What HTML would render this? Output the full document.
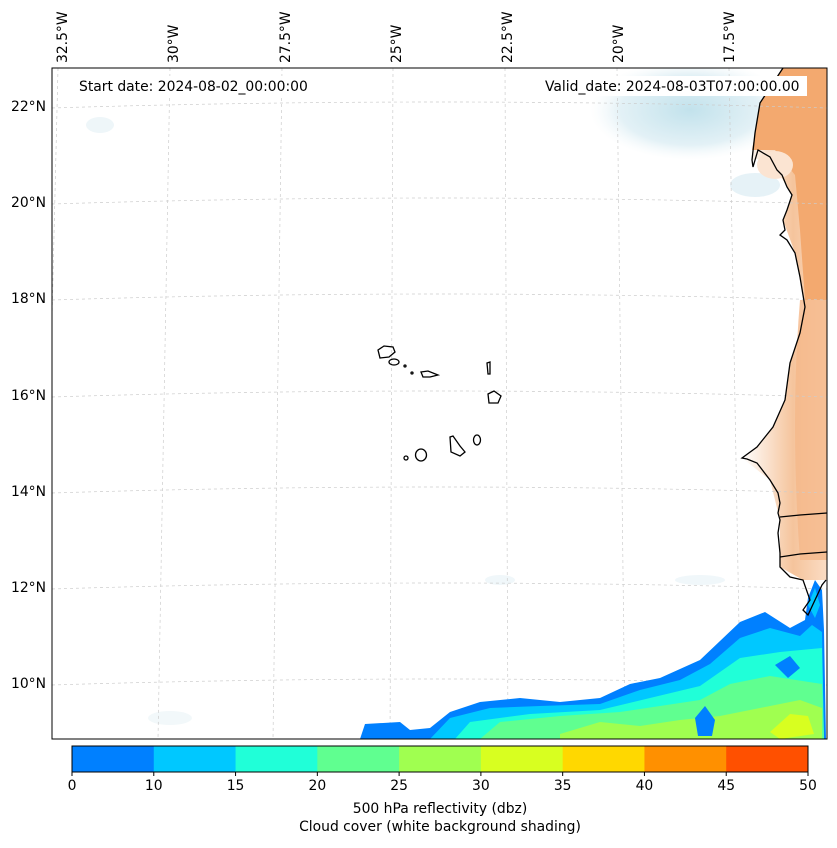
<!DOCTYPE html>
<html><head><meta charset="utf-8"><style>
body{margin:0;background:#fff;font-family:"Liberation Sans","DejaVu Sans",sans-serif;}
svg text{font-family:"DejaVu Sans","Liberation Sans",sans-serif;font-size:13.9px;fill:#000}
</style></head><body>
<svg width="837" height="843" viewBox="0 0 837 843">
<defs>
<linearGradient id="landS" x1="0" x2="1"><stop offset="0" stop-color="#fff"/><stop offset="0.6" stop-color="#f5c49c"/><stop offset="1" stop-color="#fbdcc4"/></linearGradient>
<radialGradient id="cloud"><stop offset="0" stop-color="#c2e2ec"/><stop offset="0.7" stop-color="#e3f1f6"/><stop offset="1" stop-color="#f3f9fb" stop-opacity="0"/></radialGradient>
<clipPath id="mapclip"><rect x="52" y="68" width="775" height="671"/></clipPath>
</defs>
<g clip-path="url(#mapclip)">
<rect x="52" y="68" width="775" height="671" fill="#fff"/>
<ellipse cx="690" cy="110" rx="100" ry="50" fill="url(#cloud)"/>
<ellipse cx="755" cy="185" rx="25" ry="12" fill="#e0eff5" opacity="0.8"/>
<ellipse cx="100" cy="125" rx="14" ry="8" fill="#eef6f9"/>
<ellipse cx="500" cy="580" rx="15" ry="5" fill="#f0f7fa"/>
<ellipse cx="700" cy="580" rx="25" ry="5" fill="#f0f7fa"/>
<ellipse cx="170" cy="718" rx="22" ry="7" fill="#f2f8fa"/>
<path d="M783,68 L760,103 L755,133 L752,160 L770,157 L787,187 L792,195 L783,220 L795,253 L805,307 L800,333 L790,363 L785,400 L773,427 L757,447 L742,458 L770,480 L780,520 L780,567 L803,580 L827,580 L827,68 Z" fill="url(#landS)"/>
<path d="M783,68 L760,103 L755,133 L752,150 L775,150 L795,175 L800,230 L805,300 L827,300 L827,68 Z" fill="#f3a96f"/>
<ellipse cx="775" cy="165" rx="18" ry="14" fill="#fbe4d2"/>
<path d="M800,300 L827,300 L827,560 L800,560 Q790,420 800,300Z" fill="#f5b88a" opacity="0.8"/>
<g stroke="#ccc" stroke-width="0.7" stroke-dasharray="3,3" fill="none">
<path d="M52,108 Q440,96 827,108"/><path d="M52,204 Q440,192 827,204"/><path d="M52,300 Q440,288 827,300"/>
<path d="M52,397 Q440,385 827,397"/><path d="M52,493 Q440,481 827,493"/><path d="M52,589 Q440,577 827,589"/><path d="M52,685 Q440,673 827,685"/>
<path d="M58,68 L42,739"/><path d="M170,68 L158,739"/><path d="M282,68 L273,739"/><path d="M393,68 L390,739"/>
<path d="M505,68 L508,739"/><path d="M617,68 L625,739"/><path d="M729,68 L741,739"/>
</g>
<g>
<path d="M360,739 L365,724 L400,722 L410,730 L430,728 L450,712 L480,702 L520,698 L560,702 L600,698 L630,684 L660,678 L700,660 L740,622 L765,612 L790,628 L805,620 L808,598 L815,580 L822,590 L824,630 L826,739 Z" fill="#0080ff"/>
<path d="M430,739 L450,718 L490,708 L540,706 L600,704 L640,690 L680,680 L710,664 L740,638 L770,628 L800,636 L812,625 L822,632 L824,739 Z" fill="#00c8ff"/>
<path d="M455,739 L470,722 L530,714 L600,710 L650,698 L700,686 L740,658 L780,652 L822,648 L824,739 Z" fill="#20ffd8"/>
<path d="M480,739 L500,722 L560,716 L620,712 L660,706 L700,700 L730,684 L770,676 L822,684 L824,739 Z" fill="#60ff90"/>
<path d="M560,734 L600,722 L640,726 L680,720 L720,716 L760,708 L800,700 L822,708 L822,739 L560,739 Z" fill="#a0ff50"/>
<path d="M770,732 L790,714 L808,716 L814,734 L780,739 Z" fill="#d8ff20"/>
<path d="M775,665 L790,656 L800,668 L788,678 Z" fill="#0080ff"/>
<path d="M695,718 L705,706 L715,720 L712,736 L698,736 Z" fill="#0080ff"/>
<path d="M808,605 L815,588 L820,605 L815,618 Z" fill="#00c8ff"/>
</g>
<path d="M783,68 L760,103 L755,133 L752,160 L753,167 L758,150 L770,157 L777,170 L782,175 L787,187 L792,195 L787,210 L783,220 L785,230 L780,235 L787,240 L795,253 L800,277 L805,307 L800,333 L790,363 L785,400 L773,427 L757,447 L742,458 L747,459 L757,463 L770,480 L778,493 L780,503 L778,513 L780,520 L778,533 L780,553 L780,567 L790,577 L803,580 L810,600 L803,610 L808,615 L815,600 L822,585 L826,580" fill="none" stroke="#000" stroke-width="1.3"/>
<path d="M780,517 L800,515 L827,513 M780,557 L800,554 L827,552" fill="none" stroke="#000" stroke-width="1.3"/>
<g fill="none" stroke="#000" stroke-width="1.3">
<path d="M378,350 L384,346 L393,347 L395,352 L389,357 L380,358 Z"/>
<ellipse cx="394" cy="362" rx="5" ry="3"/>
<circle cx="405" cy="366" r="1"/><circle cx="412" cy="373" r="1"/>
<path d="M421,372 L428,371 L438,375 L430,377 L423,377 Z"/>
<path d="M487,363 L490,362 L490,374 L488,374 Z"/>
<path d="M488,394 L494,391 L501,396 L498,403 L489,403 Z"/>
<path d="M450,437 L453,436 L460,446 L465,452 L460,456 L451,452 Z"/>
<ellipse cx="477" cy="440" rx="3.5" ry="5"/>
<ellipse cx="421" cy="455" rx="5.5" ry="6"/>
<circle cx="406" cy="458" r="2"/>
</g>
<rect x="72" y="76" width="242" height="20" fill="#fff"/>
<text x="79" y="91">Start date: 2024-08-02_00:00:00</text>
<rect x="538" y="76" width="269" height="20" fill="#fff"/>
<text x="545" y="91">Valid_date: 2024-08-03T07:00:00.00</text>
</g>
<rect x="52" y="68" width="775" height="671" fill="none" stroke="#000" stroke-width="1"/>
<g text-anchor="end">
<text x="46" y="111">22°N</text><text x="46" y="207">20°N</text><text x="46" y="303">18°N</text><text x="46" y="400">16°N</text>
<text x="46" y="496">14°N</text><text x="46" y="592">12°N</text><text x="46" y="688">10°N</text>
</g>
<g id="lonlabels"></g>
<g id="cbar"></g>
<text x="440" y="813" text-anchor="middle">500 hPa reflectivity (dbz)</text>
<text x="440" y="831" text-anchor="middle">Cloud cover (white background shading)</text>
</svg>
<script>
const levels=[0,10,15,20,25,30,35,40,45,50];
const colors=["#0080ff","#00c8ff","#20ffd8","#60ff90","#a0ff50","#d8ff20","#ffd800","#ff9000","#ff5000"];
const lonLabels=["32.5°W","30°W","27.5°W","25°W","22.5°W","20°W","17.5°W"];
const lonX=[67,178,290,401,512,623,734];
const NS="http://www.w3.org/2000/svg";
const cb=document.getElementById('cbar');
const x0=72,x1=808,y0=746,h=26;
const step=(x1-x0)/(levels.length-1);
function xi(i){return x0+i*step;}
for(let i=0;i<colors.length;i++){
  const r=document.createElementNS(NS,'rect');
  r.setAttribute('x',xi(i));r.setAttribute('y',y0);r.setAttribute('width',step+0.5);r.setAttribute('height',h);r.setAttribute('fill',colors[i]);
  
  
  cb.appendChild(r);
}
const fr=document.createElementNS(NS,'rect');
fr.setAttribute('x',x0);fr.setAttribute('y',y0);fr.setAttribute('width',x1-x0);fr.setAttribute('height',h);fr.setAttribute('fill','none');fr.setAttribute('stroke','#000');


cb.appendChild(fr);
levels.forEach((v,i)=>{
  const l=document.createElementNS(NS,'line');
  l.setAttribute('x1',xi(i));l.setAttribute('x2',xi(i));l.setAttribute('y1',y0+h);l.setAttribute('y2',y0+h+4);l.setAttribute('stroke','#000');
  
  
  cb.appendChild(l);
  const t=document.createElementNS(NS,'text');
  t.setAttribute('x',xi(i));t.setAttribute('y',y0+h+18);t.setAttribute('text-anchor','middle');t.textContent=v;
  
  
  cb.appendChild(t);
});
const ll=document.getElementById('lonlabels');
lonLabels.forEach((s,i)=>{
  const t=document.createElementNS(NS,'text');
  t.setAttribute('transform','translate('+lonX[i]+',63) rotate(-90)');t.textContent=s;
  
  
  ll.appendChild(t);
});
</script>
</body></html>
